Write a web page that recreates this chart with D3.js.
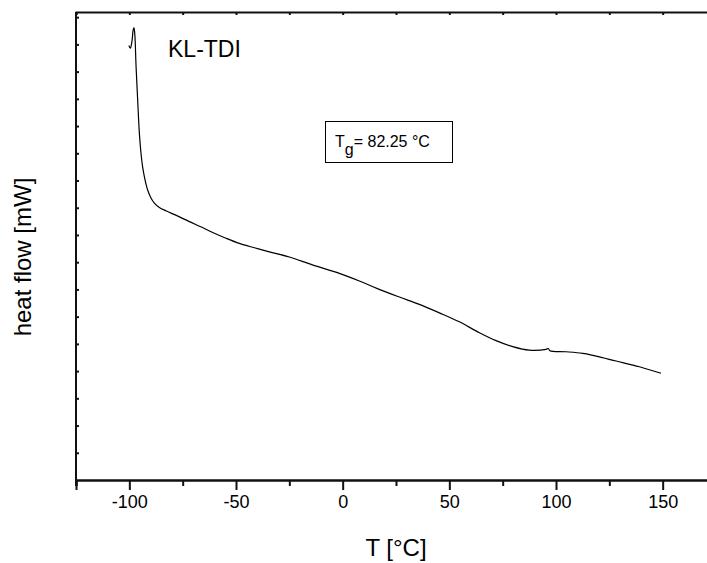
<!DOCTYPE html>
<html>
<head>
<meta charset="utf-8">
<script src="https://cdn.jsdelivr.net/npm/d3@7"></script>
<style>
  html, body { margin: 0; padding: 0; background: #fff; }
  svg { display: block; font-family: "Liberation Sans", Arial, sans-serif; }
</style>
</head>
<body>
<svg id="chart" width="707" height="563"></svg>
<script>
// DSC trace of KL-TDI: temperature (°C) and heat flow (arbitrary units, one per y tick)
const temperature = [
  -100.22, -99.52, -98.81, -98.20, -97.83, -97.41, -96.84, -96.09, -95.30, -94.59,
  -93.75, -92.72, -91.41, -89.91, -88.27, -85.92, -82.64, -77.49, -71.86, -66.24,
  -60.94, -54.99, -48.42, -41.39, -34.36, -24.98, -14.20, -1.55, 7.83, 16.27,
  26.58, 35.95, 45.33, 54.70, 64.08, 71.91, 79.69, 87.52, 95.35, 96.42,
  97.13, 104.72, 112.50, 118.78, 128.16, 139.08, 149.25
];
const heatFlow = [
  15.96, 15.86, 16.09, 16.53, 16.62, 16.34, 15.18, 13.96, 12.74, 12.05,
  11.49, 11.05, 10.65, 10.37, 10.17, 10.01, 9.88, 9.70, 9.49, 9.29,
  9.09, 8.89, 8.69, 8.53, 8.38, 8.19, 7.90, 7.59, 7.31, 7.03,
  6.72, 6.45, 6.14, 5.81, 5.41, 5.12, 4.90, 4.77, 4.80, 4.83,
  4.75, 4.71, 4.65, 4.55, 4.37, 4.16, 3.92
];

const xMajorTicks = [-100, -50, 0, 50, 100, 150];
const xMinorTicks = [-125, -75, -25, 25, 75, 125, 175];
const xTopTicks = d3.range(-125, 176, 25);
const yTicks = d3.range(1, 18);

const sampleName = "KL-TDI";
const glassTransition = 82.25;
const xTitle = "T [°C]";
const yTitle = "heat flow [mW]";

const svg = d3.select("#chart");
const plotLeft = 76, plotRight = 716, plotTop = 12, plotBottom = 480;

const x = d3.scaleLinear().domain([-125, 175]).range([plotLeft, plotRight]);
const y = d3.scaleLinear().domain([0, 17.19]).range([plotBottom, plotTop]);

const axisStroke = "#111";

function styleAxis(g, width) {
  g.selectAll(".domain").attr("stroke", axisStroke).attr("stroke-width", width);
  g.selectAll(".tick line").attr("stroke", axisStroke).attr("stroke-width", width);
}

// bottom axis: minor ticks, then labelled major ticks
const gMinor = svg.append("g")
  .attr("transform", `translate(0,${plotBottom})`)
  .call(d3.axisBottom(x).tickValues(xMinorTicks).tickSize(6).tickFormat(""));
styleAxis(gMinor, 2);

const gMajor = svg.append("g")
  .attr("transform", `translate(0,${plotBottom})`)
  .call(d3.axisBottom(x).tickValues(xMajorTicks).tickSize(10).tickPadding(5).tickFormat(d3.format("d")));
styleAxis(gMajor, 2);
gMajor.selectAll(".tick text")
  .attr("font-family", "Liberation Sans, Arial, sans-serif")
  .attr("font-size", 18)
  .attr("fill", "#000")
  .text(d => String(d));

// top axis: small inward ticks, no labels
const gTop = svg.append("g")
  .attr("transform", `translate(0,${plotTop})`)
  .call(d3.axisBottom(x).tickValues(xTopTicks).tickSize(3).tickFormat(""));
styleAxis(gTop, 2);

// left axis: small inward ticks, no labels
const gLeft = svg.append("g")
  .attr("transform", `translate(${plotLeft},0)`)
  .call(d3.axisRight(y).tickValues(yTicks).tickSize(3).tickFormat(""));
styleAxis(gLeft, 2);
gLeft.select(".domain").attr("d", `M0,${plotBottom + 6}V${plotTop}`);

// DSC curve
const line = d3.line()
  .x((d, i) => x(temperature[i]))
  .y((d, i) => y(heatFlow[i]))
  .curve(d3.curveCatmullRom.alpha(0.5));

svg.append("path")
  .datum(heatFlow)
  .attr("d", line)
  .attr("fill", "none")
  .attr("stroke", "#000")
  .attr("stroke-width", 1.2);

// sample name
svg.append("text")
  .attr("x", 168).attr("y", 57)
  .attr("font-size", 23)
  .attr("fill", "#000")
  .text(sampleName);

// glass transition box
const tgBox = svg.append("g");
tgBox.append("rect")
  .attr("x", 325.5).attr("y", 121.5)
  .attr("width", 127).attr("height", 41)
  .attr("fill", "#fff")
  .attr("stroke", "#000")
  .attr("stroke-width", 1);
const tgText = tgBox.append("text")
  .attr("x", 335).attr("y", 147)
  .attr("font-size", 16)
  .attr("fill", "#000");
tgText.append("tspan").text("T");
tgText.append("tspan").attr("dy", 8).text("g");
tgText.append("tspan").attr("dy", -8).text(`= ${glassTransition.toFixed(2)} °C`);

// axis titles
svg.append("text")
  .attr("x", 396).attr("y", 556)
  .attr("text-anchor", "middle")
  .attr("font-size", 24)
  .attr("fill", "#000")
  .text(xTitle);

svg.append("text")
  .attr("transform", "translate(31,257) rotate(-90)")
  .attr("text-anchor", "middle")
  .attr("font-size", 24)
  .attr("fill", "#000")
  .text(yTitle);
</script>
</body>
</html>
